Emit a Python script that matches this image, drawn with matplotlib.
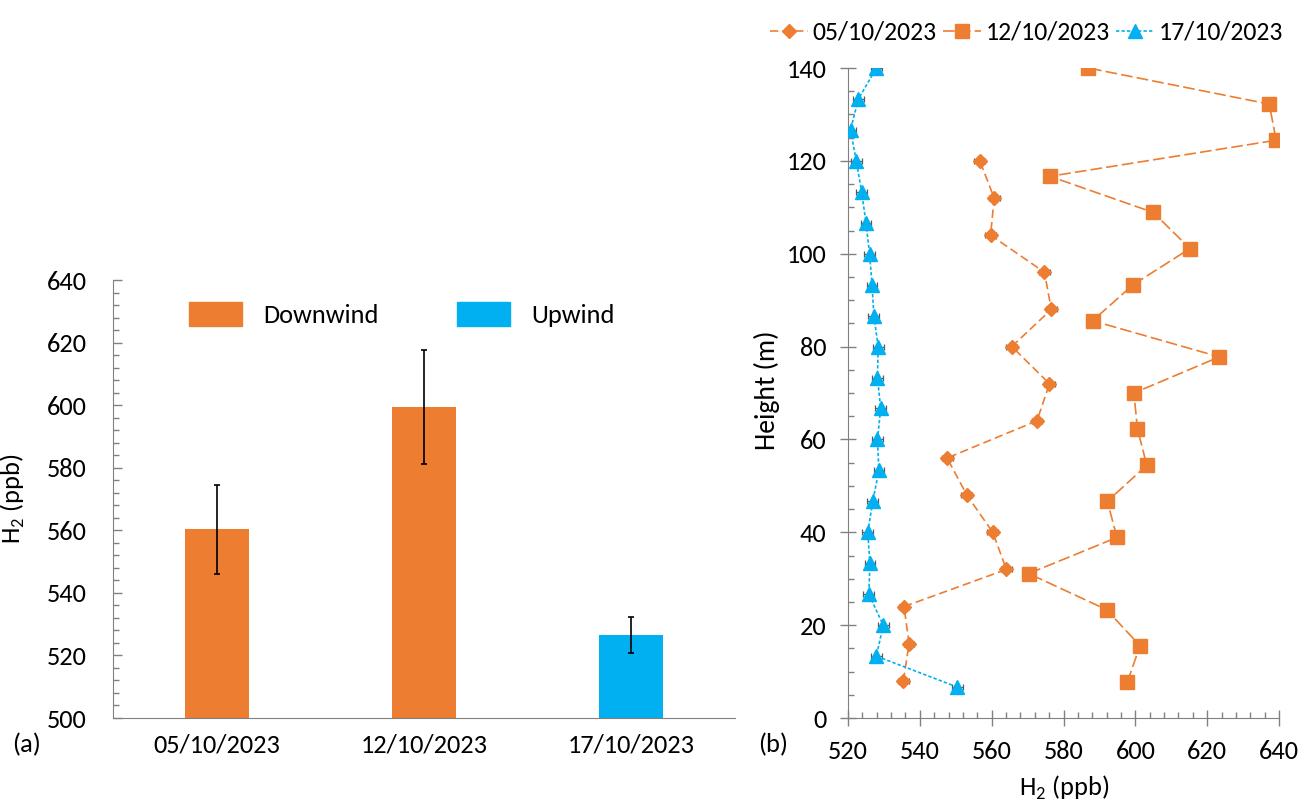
import numpy as np
import matplotlib as mpl
mpl.use('Agg')
import matplotlib.pyplot as plt
from matplotlib import font_manager
from matplotlib.patches import Patch
from matplotlib.ticker import MultipleLocator

# pick a Calibri-like font if there is one
FONT = 'Lato'
for name in ['Carlito', 'Liberation Sans Narrow']:
    try:
        font_manager.findfont(name, fallback_to_default=False)
        FONT = name
        break
    except Exception:
        pass

plt.rcParams['font.family'] = [FONT, 'DejaVu Sans']
plt.rcParams['mathtext.fontset'] = 'custom'
plt.rcParams['mathtext.rm'] = FONT
plt.rcParams['font.size'] = 19

# (a) mean H2 per campaign day
days = ['05/10/2023', '12/10/2023', '17/10/2023']
bar_mean = [560.3, 599.4, 526.6]
bar_err = [14.3, 18.2, 5.7]
bar_kind = ['Downwind', 'Downwind', 'Upwind']

# (b) vertical profiles
h_0510 = [8, 16, 24, 32, 40, 48, 56, 64, 72, 80, 88, 96, 104, 112, 120]
c_0510 = [535.4, 537.0, 535.6, 564.1, 560.3, 553.1, 547.6, 572.6, 576.1,
          565.6, 576.6, 574.7, 559.7, 560.7, 556.7]

h_1210 = [7.78, 15.56, 23.33, 31.11, 38.89, 46.67, 54.44, 62.22, 70.0,
          77.78, 85.56, 93.33, 101.11, 108.89, 116.67, 124.44, 132.22, 140.0]
c_1210 = [597.8, 601.3, 592.0, 570.3, 594.9, 592.2, 603.2, 600.6, 599.6,
          623.4, 588.1, 599.4, 615.2, 605.0, 576.2, 639.2, 637.3, 586.9]

h_1710 = [6.67, 13.33, 20.0, 26.67, 33.33, 40.0, 46.67, 53.33, 60.0, 66.67,
          73.33, 80.0, 86.67, 93.33, 100.0, 106.67, 113.33, 120.0, 126.67,
          133.33, 140.0]
c_1710 = [550.4, 527.9, 529.8, 525.8, 526.1, 525.5, 526.9, 528.6, 528.2,
          529.1, 528.2, 528.4, 527.2, 526.7, 526.0, 525.0, 523.8, 522.3,
          520.7, 522.9, 527.9]
prof_err = 1.5

ORANGE = '#ED7D31'
BLUE = '#00B0F0'
GREY = '#808080'

fig = plt.figure(figsize=(13.02, 8.02), dpi=100)

# ---------- panel (a)
ax1 = fig.add_axes([113/1302, 84/802, 622/1302, 438/802])
cols = [ORANGE if k == 'Downwind' else BLUE for k in bar_kind]
x = np.arange(len(days))
ax1.bar(x, bar_mean, width=0.31, color=cols)
ax1.errorbar(x, bar_mean, yerr=bar_err, fmt='none', ecolor='black',
             elinewidth=1.2, capsize=2.2, capthick=1.2)
ax1.set_xlim(-0.5, 2.5)
ax1.set_ylim(500, 640)
ax1.set_xticks(x)
ax1.set_xticklabels(days)
ax1.yaxis.set_major_locator(MultipleLocator(20))
ax1.yaxis.set_minor_locator(MultipleLocator(4))
ax1.tick_params(axis='x', length=0, pad=11)
ax1.tick_params(axis='y', which='major', direction='in', length=6.5,
                width=1, color=GREY, pad=19)
ax1.tick_params(axis='y', which='minor', direction='in', length=4,
                width=1, color=GREY)
for s in ['top', 'right']:
    ax1.spines[s].set_visible(False)
for s in ['left', 'bottom']:
    ax1.spines[s].set_color(GREY)
ax1.set_ylabel(r'H$_\mathregular{2}$ (ppb)')
ax1.yaxis.set_label_coords(-0.138, 0.5)
handles = [Patch(color=ORANGE, label='Downwind'), Patch(color=BLUE, label='Upwind')]
ax1.legend(handles=handles, ncol=2, frameon=False, loc='upper left',
           bbox_to_anchor=(0.101, 0.98), borderpad=0, handlelength=2.0,
           handleheight=1.0, handletextpad=0.8, columnspacing=3.0)

# ---------- panel (b)
ax2 = fig.add_axes([848/1302, 84/802, 431/1302, 650/802])
series = [
    (c_0510, h_0510, 'D', 7.5, (5, 2.5), ORANGE, '05/10/2023'),
    (c_1210, h_1210, 's', 10, (7, 2.5), ORANGE, '12/10/2023'),
    (c_1710, h_1710, '^', 9.5, (2, 1.3), BLUE, '17/10/2023'),
]
for c, h, m, ms, dash, col, lab in series:
    ax2.errorbar(c, h, xerr=prof_err, fmt='none', ecolor='#595959',
                 elinewidth=0.9, capsize=2.5, capthick=0.9, zorder=2)
    ax2.plot(c, h, marker=m, markersize=ms, color=col, lw=1.2,
             dashes=dash, label=lab, zorder=3)
ax2.set_xlim(520, 640)
ax2.set_ylim(0, 140)
ax2.xaxis.set_major_locator(MultipleLocator(20))
ax2.xaxis.set_minor_locator(MultipleLocator(4))
ax2.yaxis.set_major_locator(MultipleLocator(20))
ax2.yaxis.set_minor_locator(MultipleLocator(5))
ax2.tick_params(which='major', direction='inout', length=11, width=1,
                color=GREY, pad=10)
ax2.tick_params(which='minor', direction='in', length=4.5, width=1, color=GREY)
for s in ['top', 'right']:
    ax2.spines[s].set_visible(False)
for s in ['left', 'bottom']:
    ax2.spines[s].set_color(GREY)
ax2.set_ylabel('Height (m)', fontsize=20)
ax2.yaxis.set_label_coords(-0.158, 0.505)
ax2.set_xlabel(r'H$_\mathregular{2}$ (ppb)')
ax2.xaxis.set_label_coords(0.501, -0.085)

fig.legend(*ax2.get_legend_handles_labels(), ncol=3, frameon=False,
           loc='upper right', bbox_to_anchor=(1296/1302, 1 - 8/802),
           borderpad=0, handlelength=1.45, handletextpad=0.2,
           columnspacing=0.25, fontsize=18.5)

fig.text(12/1302, (802-745)/802, '(a)', va='center', ha='left')
fig.text(758/1302, (802-745)/802, '(b)', va='center', ha='left')

fig.savefig('out.png', dpi=100)
